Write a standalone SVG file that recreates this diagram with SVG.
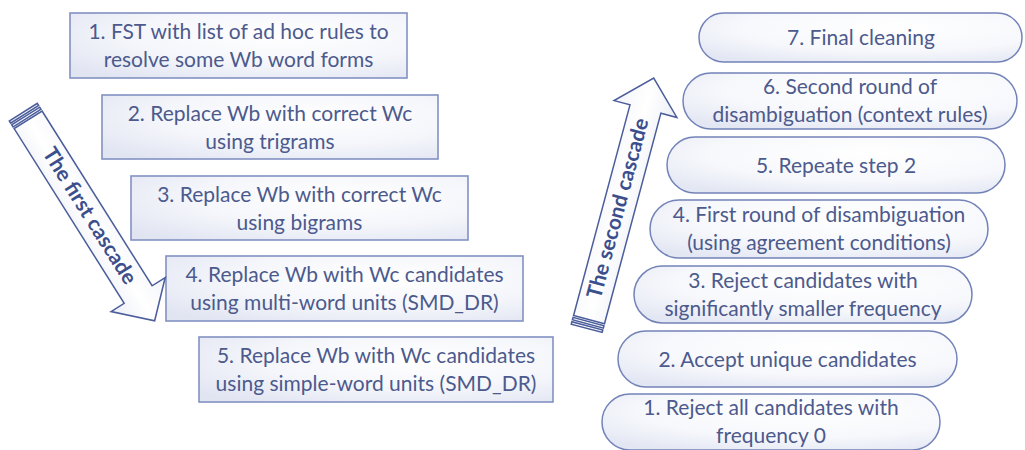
<svg xmlns="http://www.w3.org/2000/svg" width="1025" height="450" viewBox="0 0 1025 450">
  <defs>
    <radialGradient id="boxFill" cx="0.62" cy="0.35" r="0.8">
      <stop offset="0" stop-color="#ffffff"/>
      <stop offset="0.55" stop-color="#f5f6fb"/>
      <stop offset="1" stop-color="#e1e5f2"/>
    </radialGradient>
    <radialGradient id="pillFill" cx="0.6" cy="0.3" r="0.8">
      <stop offset="0" stop-color="#ffffff"/>
      <stop offset="0.6" stop-color="#f7f8fc"/>
      <stop offset="1" stop-color="#e3e7f3"/>
    </radialGradient>
    <linearGradient id="arrowFill" x1="0" y1="0" x2="0" y2="1">
      <stop offset="0" stop-color="#f4f5fa"/>
      <stop offset="0.5" stop-color="#ffffff"/>
      <stop offset="1" stop-color="#eceef6"/>
    </linearGradient>
    <style>
      .box { fill: url(#boxFill); stroke: #8391c2; stroke-width: 1.6; }
      .pill { fill: url(#pillFill); stroke: #7383b8; stroke-width: 1.5; }
      .lbl { font-family: Lato, "Liberation Sans", sans-serif; font-size: 21px; fill: #4c5a8d; text-anchor: middle; }
      .arrow { fill: url(#arrowFill); stroke: #4b5d9b; stroke-width: 1.5; stroke-linejoin: miter; }
      .atxt { font-family: Lato, "Liberation Sans", sans-serif; font-size: 21px; font-weight: bold; fill: #3c4f8d; text-anchor: middle; }
    </style>
  </defs>
  <rect width="1025" height="450" fill="#ffffff"/>

  <!-- First cascade: left boxes -->
  <g id="fc1">
    <rect class="box" x="70" y="13" width="337" height="65"/>
    <text class="lbl" x="238.5" y="39">1. FST with list of ad hoc rules to</text>
    <text class="lbl" x="238.5" y="67">resolve some Wb word forms</text>
  </g>
  <g id="fc2">
    <rect class="box" x="102" y="95" width="336" height="64"/>
    <text class="lbl" x="270" y="121">2. Replace Wb with correct Wc</text>
    <text class="lbl" x="270" y="149">using trigrams</text>
  </g>
  <g id="fc3">
    <rect class="box" x="131" y="176" width="337" height="64"/>
    <text class="lbl" x="299.5" y="202">3. Replace Wb with correct Wc</text>
    <text class="lbl" x="299.5" y="230">using bigrams</text>
  </g>
  <g id="fc4">
    <rect class="box" x="166" y="256" width="357" height="65"/>
    <text class="lbl" x="344.5" y="282">4. Replace Wb with Wc candidates</text>
    <text class="lbl" x="344.5" y="310">using multi-word units (SMD_DR)</text>
  </g>
  <g id="fc5">
    <rect class="box" x="199" y="337" width="354" height="65"/>
    <text class="lbl" x="376" y="363">5. Replace Wb with Wc candidates</text>
    <text class="lbl" x="376" y="391">using simple-word units (SMD_DR)</text>
  </g>

  <!-- Second cascade: right pills -->
  <g id="sc7">
    <rect class="pill" x="699" y="13" width="323" height="49" rx="24.5" ry="24.5"/>
    <text class="lbl" x="861" y="45">7. Final cleaning</text>
  </g>
  <g id="sc6">
    <rect class="pill" x="683" y="73" width="334" height="56" rx="28" ry="28"/>
    <text class="lbl" x="850" y="94">6. Second round of</text>
    <text class="lbl" x="850" y="122">disambiguation (context rules)</text>
  </g>
  <g id="sc5">
    <rect class="pill" x="667" y="137" width="338" height="56" rx="28" ry="28"/>
    <text class="lbl" x="836" y="172.5">5. Repeate step 2</text>
  </g>
  <g id="sc4">
    <rect class="pill" x="650" y="200" width="338" height="58" rx="29" ry="29"/>
    <text class="lbl" x="819" y="222">4. First round of disambiguation</text>
    <text class="lbl" x="819" y="250">(using agreement conditions)</text>
  </g>
  <g id="sc3">
    <rect class="pill" x="634" y="266" width="338" height="57" rx="28.5" ry="28.5"/>
    <text class="lbl" x="803" y="288">3. Reject candidates with</text>
    <text class="lbl" x="803" y="316">significantly smaller frequency</text>
  </g>
  <g id="sc2">
    <rect class="pill" x="618" y="331" width="339" height="56" rx="28" ry="28"/>
    <text class="lbl" x="787.5" y="366.5">2. Accept unique candidates</text>
  </g>
  <g id="sc1">
    <rect class="pill" x="602" y="394" width="338" height="56" rx="28" ry="28"/>
    <text class="lbl" x="771" y="415">1. Reject all candidates with</text>
    <text class="lbl" x="771" y="443">frequency 0</text>
  </g>

  <!-- Connectors: the two cascade arrows -->
  <g id="connectors">
    <g id="first-cascade" transform="translate(23.3,112.2) rotate(57.8)">
      <rect class="arrow" x="0" y="-16.5" width="2.5" height="33"/>
      <rect class="arrow" x="4.5" y="-16.5" width="2.5" height="33"/>
      <path class="arrow" d="M9,-16.5 L215.5,-16.5 L215.5,-32 L246.5,0 L215.5,32 L215.5,16.5 L9,16.5 Z"/>
      <text class="atxt" x="123" y="6">The first cascade</text>
    </g>
    <g id="second-cascade" transform="translate(586.7,328.3) rotate(-75)">
      <rect class="arrow" x="0" y="-16" width="2.5" height="32"/>
      <rect class="arrow" x="4.5" y="-16" width="2.5" height="32"/>
      <path class="arrow" d="M9,-16 L227,-16 L227,-32.5 L259,0 L227,32.5 L227,16 L9,16 Z"/>
      <text class="atxt" x="124" y="6">The second cascade</text>
    </g>
  </g>
</svg>
